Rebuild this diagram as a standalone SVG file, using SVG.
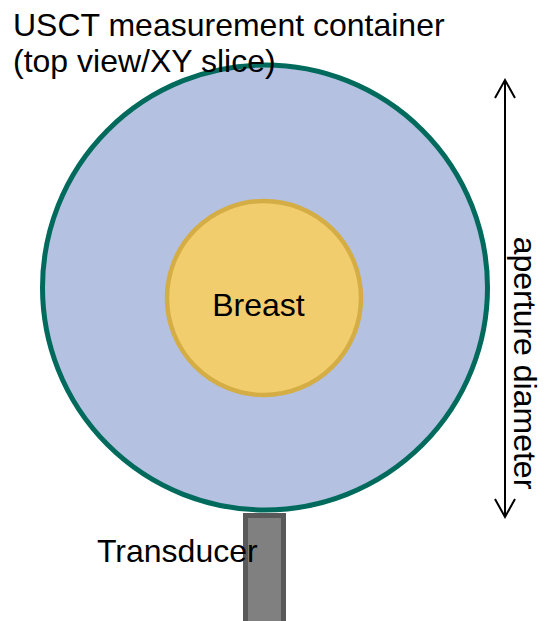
<svg xmlns="http://www.w3.org/2000/svg" width="548" height="621" viewBox="0 0 548 621">
<style>
text{font-family:"Liberation Sans",Arial,sans-serif;font-size:32px;fill:#000}
.arr{fill:none;stroke:#000;stroke-width:2}
</style>
<rect width="548" height="621" fill="#fff"/>
<g id="container">
<circle cx="265" cy="287.5" r="222.5" fill="#b4c1e1" stroke="#006b5d" stroke-width="5"/>
</g>
<g id="breast">
<circle cx="264" cy="298" r="97" fill="#f1cd6d" stroke="#d5ad45" stroke-width="4.5"/>
<text x="258.5" y="316" text-anchor="middle">Breast</text>
</g>
<g id="transducer">
<rect x="245.5" y="515.5" width="38" height="110" fill="#808080" stroke="#595959" stroke-width="5"/>
</g>
<g id="labels">
<text x="13" y="36">USCT measurement container</text>
<text x="13" y="72">(top view/XY slice)</text>
<text x="97" y="562">Transducer</text>
<text transform="translate(514,363) rotate(90)" text-anchor="middle">aperture diameter</text>
</g>
<g id="connectors">
<line class="arr" x1="505" y1="81" x2="505" y2="516"/>
<polyline class="arr" points="495,98 505,80 515,98"/>
<polyline class="arr" points="495,499 505,517 515,499"/>
</g>
</svg>
